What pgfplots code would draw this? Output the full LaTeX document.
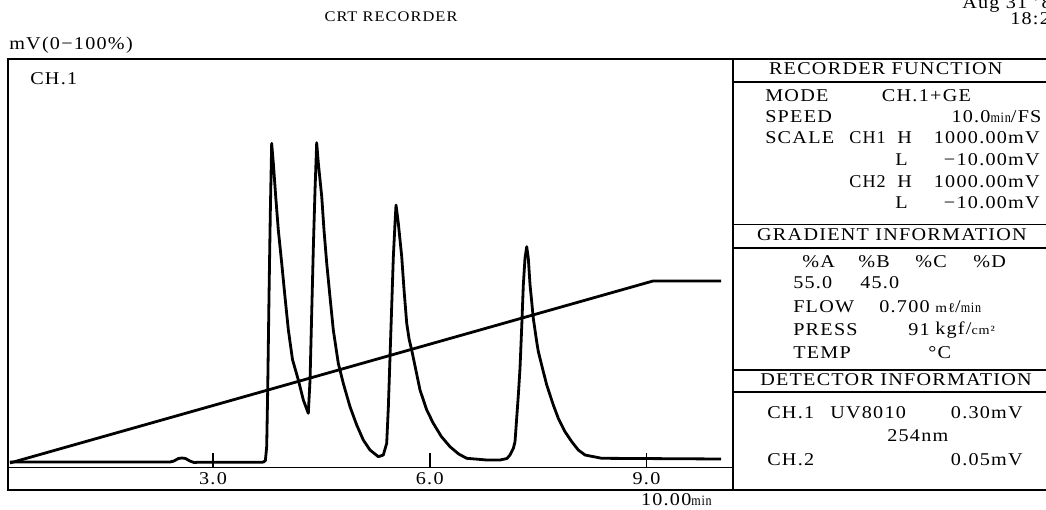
\documentclass[border=0pt]{standalone}
\usepackage{fontspec}
\setmainfont{Liberation Serif}[LetterSpace=7,FakeStretch=1.12]
\usepackage{graphicx}
\usepackage{pgfplots}
\pgfplotsset{compat=1.18}
\newcommand{\mn}{\scalebox{0.6}[0.8]{min}}
\pgfplotstableread{
x y
0.19 5.5
2.405 5.5
2.46 6.5
2.52 9
2.571 9.5
2.62 9
2.68 6.5
2.737 5
2.82 5.3
3.67 5.2
3.70 5.5
3.725 7
3.743 20.8
3.757 77.5
3.775 170.8
3.793 254.2
3.812 324.2
3.835 304.2
3.868 270.8
3.904 237.5
3.951 204.2
3.996 170.8
4.043 137.5
4.10 108
4.181 87.5
4.25 67.5
4.319 54.2
4.343 87.5
4.366 154.2
4.389 220.8
4.412 277.5
4.435 324.8
4.458 304.2
4.505 270.8
4.536 237.5
4.574 204.2
4.619 170.8
4.665 137.5
4.734 104.2
4.803 84.2
4.896 60.8
4.989 42.5
5.08 27.5
5.173 17.5
5.288 10.8
5.357 12.5
5.404 24.2
5.427 60.8
5.45 110.8
5.473 160.8
5.496 210.8
5.519 244.2
5.533 262.5
5.565 244.2
5.612 210.8
5.644 177.5
5.681 144.2
5.715 128
5.75 117.5
5.865 77.5
5.958 57.5
6.049 44.2
6.16 31
6.28 20.8
6.40 13.5
6.511 9.2
6.788 7.5
6.972 7.5
7.069 9
7.11 12.5
7.157 19.2
7.18 25.8
7.203 49.2
7.226 72.5
7.249 99.2
7.272 139.2
7.295 182.5
7.318 209.2
7.342 220.8
7.364 209.2
7.388 182.5
7.411 165.8
7.433 149.2
7.48 125.8
7.503 115.8
7.572 95.8
7.619 82.5
7.71 62.5
7.779 49.2
7.872 35.8
7.965 25.8
8.056 17.5
8.149 12.5
8.38 9.2
10.031 8.5
}\chrom
\pgfplotstableread{
x y
0.19 4.5
9.09 186.5
10.031 186.5
}\grad
\begin{document}
\begin{tikzpicture}[x=0.75pt,y=0.75pt,every node/.style={font=\fontsize{13.5}{16}\selectfont,inner sep=0pt}]
\useasboundingbox (0,0) rectangle (1046,510);
\begin{axis}[at={(6pt,31.875pt)},anchor=south west,scale only axis,
  width=543.75pt,height=306.375pt,
  xmin=0.1626,xmax=10.197,ymin=0,ymax=408.5,
  axis line style={line width=1.4pt},
  xtick={3,6,9},xticklabels={3.0,6.0,9.0},ytick=\empty,
  xtick pos=lower,tick align=inside,major tick length=10.5pt,
  tick style={line width=1.2pt,black},
  /pgf/number format/assume math mode=true,
  xticklabel style={font=\fontsize{13.5}{16}\selectfont,yshift=-3.4pt},
  clip=false]
\addplot[black,line width=2.1pt,line join=round,no markers] table[x=x,y=y]{\chrom};
\addplot[black,line width=2.1pt,line join=round,no markers] table[x=x,y=y]{\grad};
\end{axis}
\begin{scope}[line width=1.4pt]
\draw (733,451) -- (1046,451);
\draw (8,42.5) -- (8,20) -- (1046,20);
\draw (733,20) -- (733,42.5);
\draw (733,428) -- (1046,428);
\draw (733,285.5) -- (1046,285.5);
\draw (733,262) -- (1046,262);
\draw (733,140) -- (1046,140);
\draw (733,118.3) -- (1046,118.3);
\end{scope}
% header texts
\node[font=\fontsize{11}{13}\selectfont] at (391,493) {CRT RECORDER};
\node[anchor=west] at (962,506) {Aug 31 '8};
\node[anchor=west] at (1010,491) {18:2};
\node[anchor=west] at (9,465) {mV(0−100\%)};
\node[anchor=west] at (30,431) {CH.1};
\node[anchor=east] at (712,10) {10.00\mn};
% recorder function
\node at (885.7,441) {RECORDER FUNCTION};
\node[anchor=west] at (765,414.3) {MODE};
\node[anchor=west] at (881.7,414.3) {CH.1+GE};
\node[anchor=west] at (765,393.3) {SPEED};
\node[anchor=east] at (1041.7,393.3) {10.0\mn/FS};
\node[anchor=west] at (765,372) {SCALE};
\node[anchor=west] at (849,372) {\scalebox{0.9}[1]{CH1}};
\node[anchor=west] at (897,372) {H};
\node[anchor=east] at (1040,372) {1000.00mV};
\node[anchor=west] at (895,350) {L};
\node[anchor=east] at (1040,350) {−10.00mV};
\node[anchor=west] at (849,328.3) {\scalebox{0.9}[1]{CH2}};
\node[anchor=west] at (897,328.3) {H};
\node[anchor=east] at (1040,328.3) {1000.00mV};
\node[anchor=west] at (895,307) {L};
\node[anchor=east] at (1040,307) {−10.00mV};
% gradient
\node at (892,275) {GRADIENT INFORMATION};
\node[anchor=west] at (802,248.3) {\%A};
\node[anchor=west] at (858,248.3) {\%B};
\node[anchor=west] at (915,248.3) {\%C};
\node[anchor=west] at (973,248.3) {\%D};
\node[anchor=west] at (793,227) {55.0};
\node[anchor=west] at (860,227) {45.0};
\node[anchor=west] at (793,203) {FLOW};
\node[anchor=east] at (930,203) {0.700};
\node[anchor=west] at (935,203) {\scalebox{0.75}{mℓ}/\mn};
\node[anchor=west] at (793,180) {PRESS};
\node[anchor=east] at (930,180) {91};
\node[anchor=west] at (935,180) {kgf/\scalebox{0.7}{cm²}};
\node[anchor=west] at (793,157) {TEMP};
\node[anchor=west] at (928,157) {°C};
% detector
\node at (896,130) {DETECTOR INFORMATION};
\node[anchor=west] at (767,97) {CH.1};
\node[anchor=west] at (830,97) {UV8010};
\node[anchor=east] at (1023,97) {0.30mV};
\node[anchor=west] at (887,74) {254nm};
\node[anchor=west] at (767,50) {CH.2};
\node[anchor=east] at (1023,50) {0.05mV};
\end{tikzpicture}
\end{document}
